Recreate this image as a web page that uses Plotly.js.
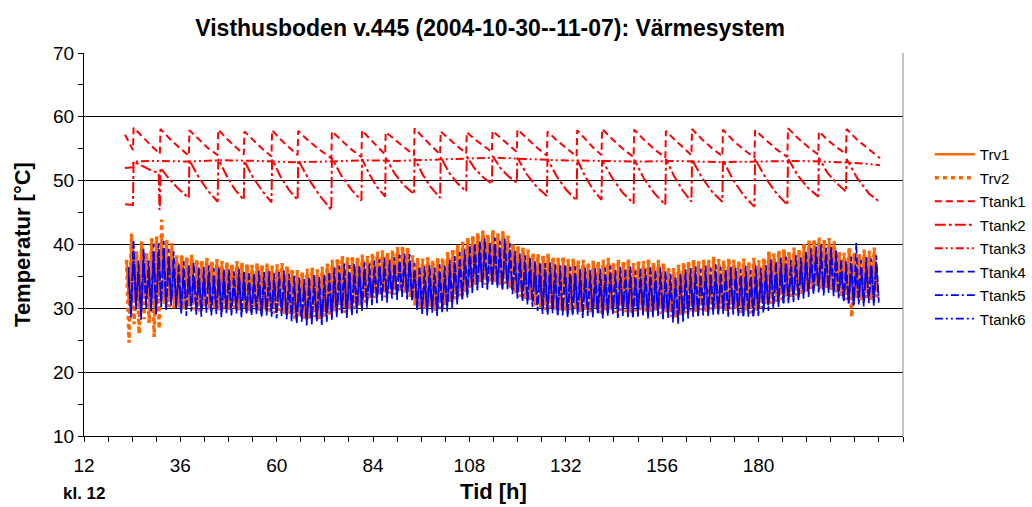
<!DOCTYPE html>
<html><head><meta charset="utf-8">
<script src="https://cdn.plot.ly/plotly-3.0.1.min.js"></script>
<style>html,body{margin:0;padding:0;background:#fff}#chart{width:1032px;height:507px}</style>
</head><body><div id="chart"></div>
<script>
// ---------- DATA ----------
const seriesNames = ['Trv1','Trv2','Ttank1','Ttank2','Ttank3','Ttank4','Ttank5','Ttank6'];
const xTickVals = [12,36,60,84,108,132,156,180];
const xTickText = ['12','36','60','84','108','132','156','180'];
const yTickVals = [10,20,30,40,50,60,70];

// oscillating circuits: one peak and one trough per 1.25 h cycle
const cycleStart = 22.6, cycleStep = 1.25, blueStart = 23.1;

const trv1Peak = [37.4,41.2,38.7,40.1,38.5,40.6,40.9,41.5,40.3,39.9,
38.0,38.3,37.9,38.1,37.5,37.4,37.6,37.2,37.5,37.1,
37.0,36.8,37.1,36.9,36.8,36.5,36.8,36.7,36.7,36.5,
36.6,36.8,36.4,36.0,35.8,35.5,35.9,36.1,35.9,36.2,
36.7,37.3,37.6,37.9,37.8,38.0,37.9,38.1,37.9,38.4,
38.6,38.8,38.5,38.9,39.3,39.5,39.4,38.0,37.6,37.5,
37.7,37.4,37.8,37.6,38.5,39.1,39.7,40.1,40.9,41.2,
41.6,41.9,41.3,42.0,41.5,41.8,41.1,39.9,39.5,39.2,
38.9,38.4,38.2,38.0,38.3,37.8,37.6,37.9,37.4,37.5,
37.2,37.3,37.0,37.2,37.1,37.3,37.6,36.9,37.4,37.2,
37.5,36.8,37.3,37.1,37.6,37.0,37.3,36.9,36.3,36.0,
36.5,37.0,37.2,37.5,37.1,37.6,37.3,37.8,37.4,37.2,
37.6,37.3,37.1,37.5,36.9,37.6,37.2,37.7,38.6,38.3,
38.8,39.0,38.5,39.2,38.9,40.0,40.3,40.6,40.8,40.4,
40.7,40.2,38.7,38.4,39.4,38.6,38.5,38.9,38.7,39.2];
const trv1Trough = [30.4,31.2,29.9,31.5,31.0,30.2,31.8,31.1,31.9,31.4,
30.8,30.5,31.1,30.6,30.3,30.9,30.5,30.7,30.2,30.8,
30.5,30.8,30.2,30.6,30.4,30.7,30.1,30.5,30.3,30.0,
30.4,29.9,29.6,29.2,29.5,28.9,29.1,29.4,29.0,29.5,
29.8,30.2,30.5,30.1,30.4,30.8,31.2,31.7,32.1,32.4,
32.8,32.5,33.1,32.9,33.4,33.0,32.6,31.2,30.7,30.5,
30.9,30.4,30.8,31.1,31.6,32.2,32.7,33.2,34.0,34.4,
34.8,34.5,35.0,34.7,34.3,34.6,33.8,33.1,32.6,32.2,
31.8,31.2,30.7,30.5,30.8,30.3,30.5,30.2,30.4,30.6,
30.1,30.4,30.2,30.5,30.0,30.3,30.5,30.1,30.4,30.2,
29.9,30.3,30.5,30.0,30.2,30.4,29.9,30.1,29.4,29.2,
29.5,30.0,30.3,30.1,30.5,30.2,30.6,30.4,30.7,30.3,
30.6,30.4,30.1,30.3,30.0,30.4,30.8,31.2,31.5,31.8,
32.1,32.4,32.6,32.8,33.1,33.4,33.8,34.1,33.6,34.0,
33.5,33.2,32.5,32.1,31.8,32.2,31.9,32.4,32.0,32.5];
const trv2Peak = [37.6,41.7,39.0,40.5,38.8,41.0,41.3,43.9,40.7,40.2,
38.3,38.5,38.2,38.4,37.8,37.6,37.9,37.5,37.7,37.4,
37.3,37.0,37.4,37.2,37.0,36.8,37.1,36.9,37.0,36.7,
36.9,37.1,36.6,36.3,36.0,35.8,36.2,36.4,36.1,36.5,
37.0,37.6,37.9,38.2,38.0,38.3,38.1,38.4,38.2,38.7,
38.9,39.1,38.8,39.2,39.6,39.8,39.7,38.3,37.9,37.8,
38.0,37.6,38.1,37.9,38.8,39.4,40.0,40.4,41.2,41.5,
41.9,42.2,41.6,42.3,41.8,42.1,41.4,40.2,39.8,39.5,
39.2,38.7,38.5,38.3,38.6,38.1,37.9,38.2,37.7,37.8,
37.5,37.6,37.3,37.5,37.4,37.6,37.9,37.2,37.7,37.5,
37.8,37.1,37.6,37.4,37.9,37.3,37.6,37.2,36.6,36.3,
36.8,37.3,37.5,37.8,37.4,37.9,37.6,38.1,37.7,37.5,
37.9,37.6,37.4,37.8,37.2,37.9,37.5,38.0,38.9,38.6,
39.1,39.3,38.8,39.5,39.2,40.3,40.6,40.9,41.1,40.7,
41.0,40.5,39.0,38.7,39.6,38.9,38.8,39.2,39.0,39.5];
const trv2Trough = [24.6,27.5,26.0,28.3,27.7,25.5,26.8,30.6,30.2,30.0,
29.9,29.6,30.3,29.8,29.5,30.1,29.7,29.9,29.4,30.0,
29.7,30.0,29.4,29.8,29.6,29.9,29.3,29.7,29.5,29.2,
29.6,29.1,28.8,28.4,28.7,28.1,28.3,28.6,28.2,28.7,
29.0,29.4,29.7,29.3,29.6,30.0,30.4,30.9,31.3,31.6,
32.0,31.7,32.3,32.1,32.6,32.2,31.8,30.4,29.9,29.7,
30.1,29.6,30.0,30.3,30.8,31.4,31.9,32.4,33.2,33.6,
34.0,33.7,34.2,33.9,33.5,33.8,33.0,32.3,31.8,31.4,
31.0,30.4,29.9,29.7,30.0,29.5,29.7,29.4,29.6,29.8,
29.3,29.6,29.4,29.7,29.2,29.5,29.7,29.3,29.6,29.4,
29.1,29.5,29.7,29.2,29.4,29.6,29.1,29.3,28.6,28.4,
28.7,29.2,29.5,29.3,29.7,29.4,29.8,29.6,29.9,29.5,
29.8,29.6,29.3,29.5,29.2,29.6,30.0,30.4,30.7,31.0,
31.3,31.6,31.8,32.0,32.3,32.6,33.0,33.3,32.8,33.2,
32.7,32.4,31.7,31.3,28.6,31.4,31.1,31.6,31.2,31.7];
const tank4Peak = [36.5,40.8,37.6,39.4,37.5,40.1,40.2,40.6,39.3,38.9,
37.1,37.4,36.9,37.2,36.6,36.5,36.7,36.3,36.6,36.2,
36.1,35.8,36.2,36.0,35.8,35.6,35.9,35.7,35.8,35.5,
35.7,35.9,35.4,35.1,34.8,34.6,35.0,35.2,34.9,35.3,
35.8,36.4,36.7,37.0,36.8,37.1,36.9,37.2,37.0,37.5,
37.7,37.9,37.6,38.0,38.4,38.6,38.5,37.1,36.7,36.6,
36.8,36.4,36.9,36.7,37.6,38.2,38.8,39.2,40.0,40.3,
40.7,41.0,40.4,41.1,40.6,40.9,40.2,39.0,38.6,38.3,
38.0,37.5,37.3,37.1,37.4,36.9,36.7,37.0,36.5,36.6,
36.3,36.4,36.1,36.3,36.2,36.4,36.7,36.0,36.5,36.3,
36.6,35.9,36.4,36.2,36.7,36.1,36.4,36.0,35.4,35.1,
35.6,36.1,36.3,36.6,36.2,36.7,36.4,36.9,36.5,36.3,
36.7,36.4,36.2,36.6,36.0,36.7,36.3,36.8,37.7,37.4,
37.9,38.1,37.6,38.3,38.0,39.1,39.4,39.7,39.9,39.5,
39.8,39.3,37.8,37.5,38.1,40.3,37.6,38.0,37.8,38.3];
const tank4Trough = [28.5,29.8,28.2,30.0,29.5,28.8,30.2,29.6,30.4,29.9,
29.2,28.8,29.5,29.0,28.7,29.3,28.9,29.1,28.6,29.2,
28.9,29.2,28.6,29.0,28.8,29.1,28.5,28.9,28.7,28.4,
28.8,28.3,28.0,27.6,27.9,27.3,27.5,27.8,27.4,27.9,
28.2,28.6,28.9,28.5,28.8,29.2,29.6,30.1,30.5,30.8,
31.2,30.9,31.5,31.3,31.8,31.4,31.0,29.6,29.1,28.9,
29.3,28.8,29.2,29.5,30.0,30.6,31.1,31.6,32.4,32.8,
33.2,32.9,33.4,33.1,32.7,33.0,32.2,31.5,31.0,30.6,
30.2,29.6,29.1,28.9,29.2,28.7,28.9,28.6,28.8,29.0,
28.5,28.8,28.6,28.9,28.4,28.7,28.9,28.5,28.8,28.6,
28.3,28.7,28.9,28.4,28.6,28.8,28.3,28.5,27.8,27.6,
27.9,28.4,28.7,28.5,28.9,28.6,29.0,28.8,29.1,28.7,
29.0,28.8,28.5,28.7,28.4,28.8,29.2,29.6,29.9,30.2,
30.5,30.8,31.0,31.2,31.5,31.8,32.2,32.5,32.0,32.4,
31.9,31.6,30.9,30.5,30.2,30.6,30.3,30.8,30.4,30.9];
const tank5Peak = [35.4,39.6,36.5,38.3,36.4,38.9,39.0,39.5,38.2,37.8,
36.0,36.3,35.8,36.1,35.5,35.4,35.6,35.2,35.5,35.1,
35.0,34.7,35.1,34.9,34.7,34.5,34.8,34.6,34.7,34.4,
34.6,34.8,34.3,34.0,33.7,33.5,33.9,34.1,33.8,34.2,
34.7,35.3,35.6,35.9,35.7,36.0,35.8,36.1,35.9,36.4,
36.6,36.8,36.5,36.9,37.3,37.5,37.4,36.0,35.6,35.5,
35.7,35.3,35.8,35.6,36.5,37.1,37.7,38.1,38.9,39.2,
39.6,39.9,39.3,40.0,39.5,39.8,39.1,37.9,37.5,37.2,
36.9,36.4,36.2,36.0,36.3,35.8,35.6,35.9,35.4,35.5,
35.2,35.3,35.0,35.2,35.1,35.3,35.6,34.9,35.4,35.2,
35.5,34.8,35.3,35.1,35.6,35.0,35.3,34.9,34.3,34.0,
34.5,35.0,35.2,35.5,35.1,35.6,35.3,35.8,35.4,35.2,
35.6,35.3,35.1,35.5,34.9,35.6,35.2,35.7,36.6,36.3,
36.8,37.0,36.5,37.2,36.9,38.0,38.3,38.6,38.8,38.4,
38.7,38.2,36.7,36.4,37.0,36.6,36.5,36.9,36.7,37.2];
const tank5Trough = [29.0,30.1,28.7,30.4,29.8,29.3,30.6,30.0,30.7,30.3,
29.6,29.3,29.8,29.4,29.2,29.7,29.3,29.6,29.0,29.5,
29.3,29.6,29.0,29.4,29.2,29.5,28.9,29.3,29.1,28.8,
29.2,28.7,28.4,28.0,28.3,27.7,27.9,28.2,27.8,28.3,
28.6,29.0,29.3,28.9,29.2,29.6,30.0,30.5,30.9,31.2,
31.6,31.3,31.9,31.7,32.2,31.8,31.4,30.0,29.5,29.3,
29.7,29.2,29.6,29.9,30.4,31.0,31.5,32.0,32.8,33.2,
33.6,33.3,33.8,33.5,33.1,33.4,32.6,31.9,31.4,31.0,
30.6,30.0,29.5,29.3,29.6,29.1,29.3,29.0,29.2,29.4,
28.9,29.2,29.0,29.3,28.8,29.1,29.3,28.9,29.2,29.0,
28.7,29.1,29.3,28.8,29.0,29.2,28.7,28.9,28.2,28.0,
28.3,28.8,29.1,28.9,29.3,29.0,29.4,29.2,29.5,29.1,
29.4,29.2,28.9,29.1,28.8,29.2,29.6,30.0,30.3,30.6,
30.9,31.2,31.4,31.6,31.9,32.2,32.6,32.9,32.4,32.8,
32.3,32.0,31.3,30.9,30.6,31.0,30.7,31.2,30.8,31.3];
const tank6Peak = [34.3,38.5,35.4,37.2,35.3,37.8,37.9,38.4,37.1,36.7,
35.0,35.3,34.8,35.1,34.5,34.4,34.6,34.2,34.5,34.1,
34.0,33.7,34.1,33.9,33.7,33.5,33.8,33.6,33.7,33.4,
33.6,33.8,33.3,33.0,32.7,32.5,32.9,33.1,32.8,33.2,
33.7,34.3,34.6,34.9,34.7,35.0,34.8,35.1,34.9,35.4,
35.6,35.8,35.5,35.9,36.3,36.5,36.4,35.0,34.6,34.5,
34.7,34.3,34.8,34.6,35.5,36.1,36.7,37.1,37.9,38.2,
38.6,38.9,38.3,39.0,38.5,38.8,38.1,36.9,36.5,36.2,
35.9,35.4,35.2,35.0,35.3,34.8,34.6,34.9,34.4,34.5,
34.2,34.3,34.0,34.2,34.1,34.3,34.6,33.9,34.4,34.2,
34.5,33.8,34.3,34.1,34.6,34.0,34.3,33.9,33.3,33.0,
33.5,34.0,34.2,34.5,34.1,34.6,34.3,34.8,34.4,34.2,
34.6,34.3,34.1,34.5,33.9,34.6,34.2,34.7,35.6,35.3,
35.8,36.0,35.5,36.2,35.9,37.0,37.3,37.6,37.8,37.4,
37.7,37.2,35.7,35.4,36.0,35.6,35.5,35.9,35.7,36.2];
const tank6Trough = [29.5,30.6,29.2,30.9,30.3,29.8,31.1,30.5,31.2,30.8,
30.1,29.8,30.3,29.9,29.7,30.2,29.8,30.1,29.5,30.0,
29.8,30.1,29.5,29.9,29.7,30.0,29.4,29.8,29.6,29.3,
29.7,29.2,28.9,28.5,28.8,28.2,28.4,28.7,28.3,28.8,
29.1,29.5,29.8,29.4,29.7,30.1,30.5,31.0,31.4,31.7,
32.1,31.8,32.4,32.2,32.7,32.3,31.9,30.5,30.0,29.8,
30.2,29.7,30.1,30.4,30.9,31.5,32.0,32.5,33.3,33.7,
34.1,33.8,34.3,34.0,33.6,33.9,33.1,32.4,31.9,31.5,
31.1,30.5,30.0,29.8,30.1,29.6,29.8,29.5,29.7,29.9,
29.4,29.7,29.5,29.8,29.3,29.6,29.8,29.4,29.7,29.5,
29.2,29.6,29.8,29.3,29.5,29.7,29.2,29.4,28.7,28.5,
28.8,29.3,29.6,29.4,29.8,29.5,29.9,29.7,30.0,29.6,
29.9,29.7,29.4,29.6,29.3,29.7,30.1,30.5,30.8,31.1,
31.4,31.7,31.9,32.1,32.4,32.7,33.1,33.4,32.9,33.3,
32.8,32.5,31.8,31.4,31.1,31.5,31.2,31.7,31.3,31.8];

// storage tank (upper sensors): sampled at each reheating and in between
const tankTime = [22.2,24.2,24.35,26.4,28.7,30.6,30.8,
30.9,31.05,33.3,35.7, 38.1,38.25,40.5,42.9, 45.3,45.45,47.5,49.6, 51.8,51.95,54.1,56.4,
58.7,58.85,60.9,63.0, 65.2,65.35,68.0,70.8, 73.6,73.75,76.1,78.6, 81.1,81.25,83.1,85.0,
87.0,87.15,89.4,91.8, 94.2,94.35,96.4,98.5, 100.7,100.85,102.9,105.0, 107.2,107.35,109.3,111.5,
113.6,113.75,115.7,117.7, 119.8,119.95,122.3,124.8, 127.3,127.45,129.8,132.2, 134.7,134.85,136.8,138.8,
140.9,141.05,143.6,146.2, 148.9,149.05,151.5,154.1, 156.8,156.95,159.0,161.1, 163.3,163.45,165.9,168.4,
171.0,171.15,173.7,176.3, 179.0,179.15,181.9,184.5, 187.2,187.35,189.8,192.3, 194.9,195.05,197.2,199.5,
201.8,201.95,204.6,207.5, 210.3];
const tank1Val = [57.2,54.8,58.3,56.9,55.5,54.4,54.3,
54.2,58.1,56.6,55.2, 53.9,57.9,56.5,55.1, 54.0,58.0,56.6,55.3, 54.1,57.7,56.4,55.0,
53.8,57.9,56.5,55.2, 54.0,57.8,56.2,54.8, 53.5,57.7,56.3,54.9, 53.7,57.9,56.6,55.3,
54.1,57.6,56.4,55.2, 54.0,58.2,56.8,55.4, 54.1,57.7,56.5,55.4, 54.3,57.6,56.5,55.5,
54.5,57.8,56.7,55.6, 54.5,58.0,56.6,55.2, 53.9,57.7,56.3,55.0, 53.8,57.9,56.5,55.2,
54.0,58.1,56.5,55.0, 53.7,58.0,56.4,54.9, 53.6,57.8,56.5,55.2, 54.0,58.1,56.5,55.1,
53.8,58.0,56.3,54.9, 53.6,57.9,56.3,54.9, 53.7,58.2,56.7,55.3, 54.1,57.7,56.4,55.2,
54.2,58.1,56.4,54.9, 53.5];
const tank2Val = [46.3,46.2,53.0,52.3,51.6,51.2,45.4,
45.6,52.0,50.2,48.6, 47.3,53.2,50.6,48.4, 46.7,53.4,50.8,48.6, 47.0,53.1,50.5,48.4,
46.6,53.3,50.7,48.6, 47.0,53.2,50.2,47.6, 45.4,53.5,50.8,48.6, 46.9,53.4,51.0,49.0,
47.5,53.6,51.1,49.2, 47.9,53.5,50.9,48.9, 47.3,53.7,51.3,49.6, 48.3,53.8,51.9,50.5,
49.5,53.9,52.0,50.7, 49.7,53.6,51.0,49.0, 47.6,53.4,50.6,48.5, 46.9,53.3,50.7,48.6,
47.0,53.2,50.4,48.1, 46.4,53.3,50.3,48.0, 46.2,53.4,50.7,48.5, 46.7,53.3,50.5,48.3,
46.7,53.2,50.1,47.7, 45.9,53.4,50.3,48.0, 46.2,53.5,50.8,48.9, 47.5,53.6,51.2,49.6,
48.3,53.4,50.4,48.0, 46.6];
const tank3Time = [22.2,24.1,24.3,30,38,46,55,64,73,82,90,98,106,114,122,130,140,150,160,170,180,190,200,206,210.3];
const tank3Val = [52.0,52.1,53.0,53.1,53.0,53.2,53.1,52.9,53.0,53.2,53.1,53.3,53.5,53.6,53.4,53.2,53.1,53.0,53.1,52.9,53.0,53.1,52.9,52.7,52.4];

// ---------- BUILD ----------
function osc(start, peaks, troughs){
  const x = [], y = [];
  for (let k = 0; k < peaks.length; k++){
    x.push(start + cycleStep*k); y.push(peaks[k]);
    x.push(start + cycleStep*k + cycleStep/2); y.push(troughs[k]);
  }
  return {x, y};
}
const orange = '#FF6600', red = '#FF0000', blue = '#0000FF';
const styles = [
  {color:orange, width:2.5, dash:'solid'},
  {color:orange, width:3.5, dash:'4px,4px'},
  {color:red, width:2, dash:'7px,4px'},
  {color:red, width:2, dash:'11px,3px,3px,3px'},
  {color:red, width:2, dash:'8px,3px,2px,3px,2px,3px'},
  {color:blue, width:1.7, dash:'7px,4px'},
  {color:blue, width:1.7, dash:'8px,3px,2px,3px'},
  {color:blue, width:1.7, dash:'8px,3px,2px,3px,2px,3px'}
];
const dataXY = [
  osc(cycleStart, trv1Peak, trv1Trough),
  osc(cycleStart, trv2Peak, trv2Trough),
  {x:tankTime, y:tank1Val},
  {x:tankTime, y:tank2Val},
  {x:tank3Time, y:tank3Val},
  osc(blueStart, tank4Peak, tank4Trough),
  osc(blueStart, tank5Peak, tank5Trough),
  osc(blueStart, tank6Peak, tank6Trough)
];
const traces = dataXY.map((d,i)=>({
  type:'scatter', mode:'lines', name:seriesNames[i], x:d.x, y:d.y,
  line:styles[i], legendgroup:'g'+i, hoverinfo:'skip'
}));

const FONT = 'Arial, "Liberation Sans", Helvetica, sans-serif';
const layout = {
  width:1032, height:507,
  margin:{l:84, r:129, t:53, b:71, autoexpand:false},
  paper_bgcolor:'#ffffff', plot_bgcolor:'#ffffff',
  font:{family:FONT, color:'#000000', size:15},
  title:{text:'<b>Visthusboden v.445 (2004-10-30--11-07): Värmesystem</b>',
    font:{family:FONT, size:23, color:'#000'}, x:0.475, xref:'container', xanchor:'center',
    y:0.945, yref:'container', yanchor:'middle'},
  showlegend:true,
  legend:{xref:'container', yref:'container', x:0.901, xanchor:'left', y:0.728, yanchor:'top', font:{family:FONT, size:15},
    bgcolor:'rgba(0,0,0,0)', traceorder:'grouped', tracegroupgap:1, itemwidth:40},
  xaxis:{range:[12,216], tickmode:'array', tickvals:xTickVals, ticktext:xTickText,
    ticks:'outside', ticklen:5, tickcolor:'#000', tickwidth:1, ticklabelstandoff:7,
    showline:true, linecolor:'#000', linewidth:1, showgrid:false, zeroline:false,
    tickfont:{family:FONT, size:19, color:'#000'},
    minor:{tickmode:'linear', tick0:12, dtick:6, ticks:'outside', ticklen:5, tickcolor:'#000', showgrid:false},
    title:{text:'<b>Tid [h]</b>', font:{family:FONT, size:22, color:'#000'}, standoff:8}},
  yaxis:{range:[10,70], tickmode:'array', tickvals:yTickVals,
    ticks:'outside', ticklen:5, tickcolor:'#000', tickwidth:1,
    showline:true, linecolor:'#000', linewidth:1, showgrid:true, gridcolor:'#000', gridwidth:1, zeroline:false,
    tickfont:{family:FONT, size:19, color:'#000'},
    minor:{tickmode:'linear', tick0:10, dtick:5, ticks:'outside', ticklen:5, tickcolor:'#000', showgrid:false},
    title:{text:'<b>Temperatur [°C]</b>', font:{family:FONT, size:22, color:'#000'}, standoff:16}},
  shapes:[{type:'line', xref:'paper', yref:'paper', x0:1, x1:1, y0:0, y1:1, line:{color:'#8c8c8c', width:1}}],
  annotations:[{text:'<b>kl. 12</b>', xref:'paper', yref:'paper', x:0, y:-0.149, xanchor:'center', yanchor:'middle',
    showarrow:false, font:{family:FONT, size:17, color:'#000'}}]
};
Plotly.newPlot('chart', traces, layout, {displayModeBar:false, staticPlot:true});
</script>
</body></html>
